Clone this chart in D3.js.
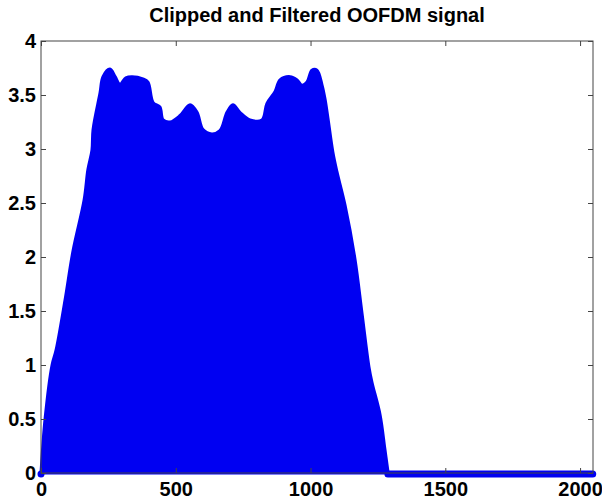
<!DOCTYPE html>
<html>
<head>
<meta charset="utf-8">
<script src="https://cdn.jsdelivr.net/npm/d3@7"></script>
<style>
  html, body { margin: 0; padding: 0; background: #fff; }
  svg { display: block; }
  text { font-family: Arial, "Liberation Sans", Helvetica, sans-serif; font-weight: bold; fill: #000; }
</style>
</head>
<body>
<svg id="chart" width="602" height="504"></svg>
<script>
// Upper envelope of the clipped & filtered signal (sample index, amplitude)
const envX = [0, 15, 41, 56, 89, 119, 160, 174, 189, 193, 219, 230, 256, 275, 293, 315, 338, 378, 397,
              416, 441, 453, 479, 516, 553, 579, 601, 634, 664, 690, 712, 738, 775, 820, 838, 868, 887,
              924, 950, 968, 987, 1005, 1024, 1043, 1054, 1065, 1083, 1098, 1128, 1165, 1191, 1217,
              1228, 1258, 1276, 1287];
const envY = [0, 0.5, 1.0, 1.14, 1.6, 2.06, 2.53, 2.81, 2.99, 3.18, 3.52, 3.67, 3.74, 3.67, 3.6, 3.66,
              3.67, 3.65, 3.62, 3.43, 3.39, 3.27, 3.25, 3.31, 3.41, 3.34, 3.18, 3.14, 3.17, 3.34, 3.41,
              3.34, 3.27, 3.27, 3.42, 3.53, 3.64, 3.67, 3.64, 3.59, 3.62, 3.73, 3.73, 3.59, 3.46, 3.28,
              2.97, 2.79, 2.48, 1.98, 1.48, 0.98, 0.84, 0.54, 0.22, 0.02];
// Zero-valued tail of the signal (after the filter cut-off)
const tailX = [1287, 2047];
const tailY = [0, 0];

const xTicks = [0, 500, 1000, 1500, 2000];
const yTicks = [0, 0.5, 1, 1.5, 2, 2.5, 3, 3.5, 4];
const title = "Clipped and Filtered OOFDM signal";

const svg = d3.select("#chart");
const m = { left: 41, top: 41, right: 593, bottom: 473 };
const x = d3.scaleLinear().domain([0, 2048]).range([m.left, m.right]);
const y = d3.scaleLinear().domain([0, 4]).range([m.bottom, m.top]);
const blue = "#0000f2";

svg.append("rect").attr("width", 602).attr("height", 504).attr("fill", "#fff");

// filled envelope (dense stems)
const env = envX.map((d, i) => [d, envY[i]]);
svg.append("path")
  .datum(env)
  .attr("d", d3.area().x(d => x(d[0])).y0(y(0)).y1(d => y(d[1])).curve(d3.curveCatmullRom.alpha(0.5)))
  .attr("fill", blue)
  .attr("stroke", blue)
  .attr("stroke-width", 3)
  .attr("stroke-linejoin", "round");

// zero tail markers
const tail = tailX.map((d, i) => [d, tailY[i]]);
svg.append("path")
  .datum(tail)
  .attr("d", d3.line().x(d => x(d[0])).y(d => y(d[1]) + 1))
  .attr("fill", "none")
  .attr("stroke", blue)
  .attr("stroke-width", 7)
  .attr("stroke-linecap", "round");
svg.append("circle").attr("cx", x(0)).attr("cy", y(0) + 1).attr("r", 3.5).attr("fill", blue);

const axisColor = "#444";
function styleAxis(g) {
  g.select(".domain").remove();
  g.selectAll("line").attr("stroke", axisColor);
  g.selectAll("text").attr("font-size", "20px").attr("font-weight", "bold")
    .attr("font-family", "Arial, 'Liberation Sans', sans-serif").attr("fill", "#000");
}

// box
svg.append("rect")
  .attr("x", m.left).attr("y", m.top)
  .attr("width", m.right - m.left).attr("height", m.bottom - m.top)
  .attr("fill", "none").attr("stroke", axisColor).attr("stroke-width", 1);

svg.append("g").attr("transform", `translate(0,${m.bottom})`)
  .call(d3.axisBottom(x).tickValues(xTicks).tickFormat(d3.format("d")).tickSizeInner(-5).tickSizeOuter(0).tickPadding(9))
  .call(styleAxis);
svg.append("g").attr("transform", `translate(0,${m.top})`)
  .call(d3.axisTop(x).tickValues(xTicks).tickFormat("").tickSizeInner(-5).tickSizeOuter(0))
  .call(styleAxis);
svg.append("g").attr("transform", `translate(${m.left},0)`)
  .call(d3.axisLeft(y).tickValues(yTicks).tickFormat(d => String(d)).tickSizeInner(-5).tickSizeOuter(0).tickPadding(5))
  .call(styleAxis);
svg.append("g").attr("transform", `translate(${m.right},0)`)
  .call(d3.axisRight(y).tickValues(yTicks).tickFormat("").tickSizeInner(-5).tickSizeOuter(0))
  .call(styleAxis);

svg.append("text")
  .attr("x", (m.left + m.right) / 2).attr("y", 22)
  .attr("text-anchor", "middle")
  .attr("font-size", "20px")
  .text(title);
</script>
</body>
</html>
